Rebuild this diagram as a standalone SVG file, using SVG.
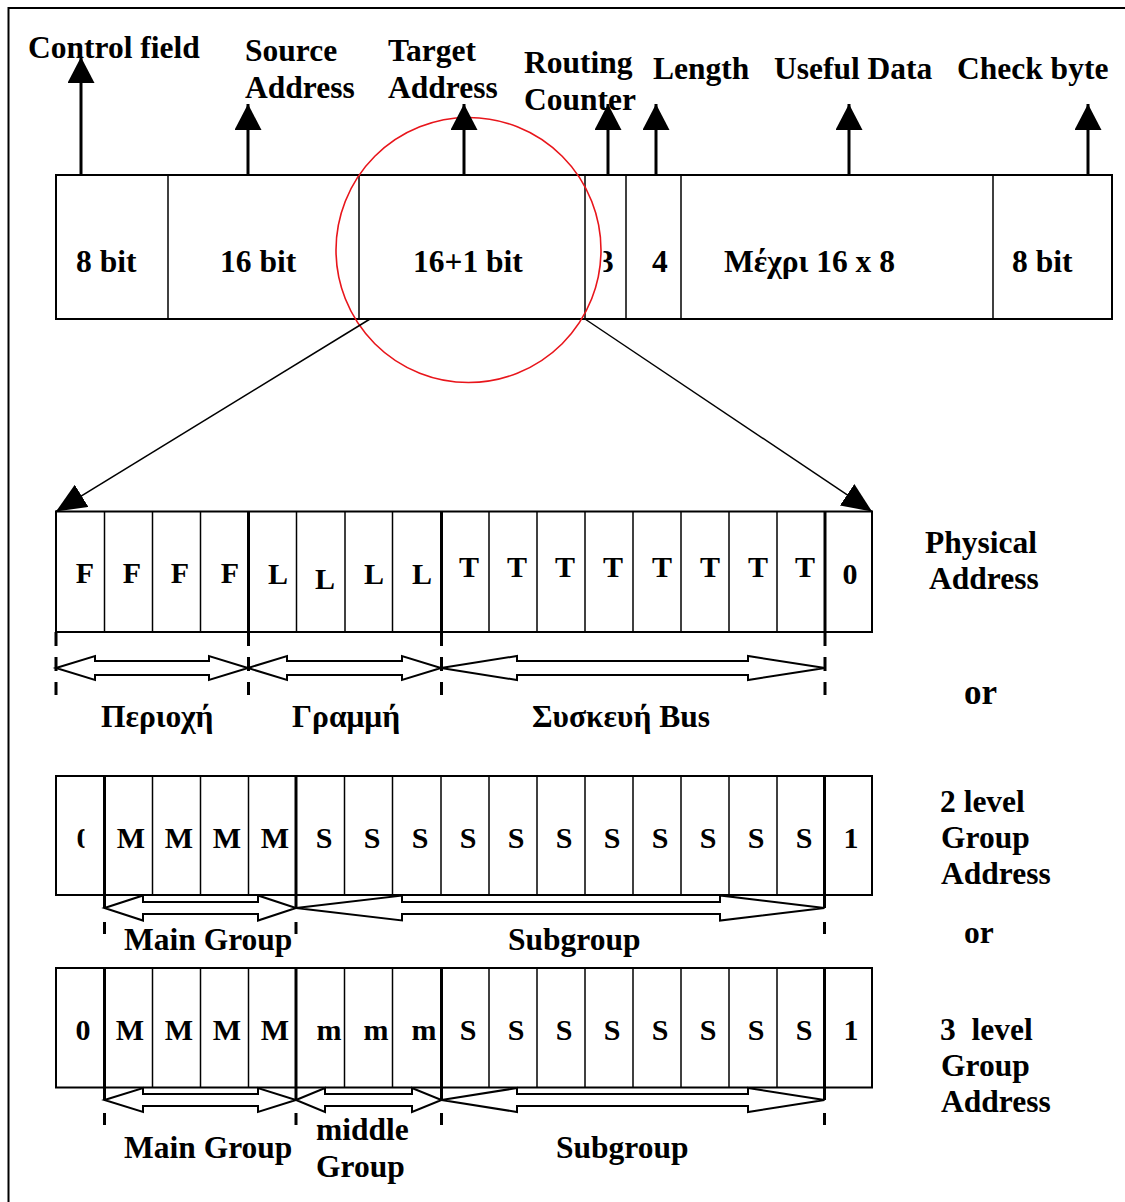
<svg xmlns="http://www.w3.org/2000/svg" width="1125" height="1202" viewBox="0 0 1125 1202">
<style>
text{font-family:"Liberation Serif","Times New Roman",serif;font-weight:bold;fill:#000}
.t31{font-size:31.5px}
.t28{font-size:30px}
.c{text-anchor:middle}
.box{fill:#fff;stroke:#000;stroke-width:2}
.div{stroke:#000;stroke-width:1.5}
.thick{stroke:#000;stroke-width:3}
.up{stroke:#000;stroke-width:3;fill:none}
.diag{stroke:#000;stroke-width:1.5;fill:none}
.dbl{fill:#fff;stroke:#000;stroke-width:2;stroke-linejoin:miter}
.dash{stroke:#000;stroke-width:3}
</style>
<defs>
<marker id="headUp" markerUnits="userSpaceOnUse" viewBox="0 0 26 27" refX="26" refY="13.5" markerWidth="26" markerHeight="27" orient="auto">
<path d="M0,0 L26,13.5 L0,27 Z" fill="#000"/>
</marker>
<marker id="headDiag" markerUnits="userSpaceOnUse" viewBox="0 0 30 26" refX="30" refY="13" markerWidth="30" markerHeight="26" orient="auto">
<path d="M0,0 L30,13 L0,26 Z" fill="#000"/>
</marker>
<clipPath id="clip3"><rect x="603.5" y="200" width="22" height="100"/></clipPath>
<clipPath id="clip0"><rect x="60" y="790" width="24.5" height="100"/></clipPath>
</defs>

<rect x="8.5" y="8" width="1130" height="1210" fill="none" stroke="#000" stroke-width="2"/>

<g id="frame">
<rect class="box" x="56" y="175" width="1056" height="144"/>
<line class="div" x1="168" y1="175" x2="168" y2="319"/>
<line class="div" x1="359" y1="175" x2="359" y2="319"/>
<line class="div" x1="585" y1="175" x2="585" y2="319"/>
<line class="div" x1="626" y1="175" x2="626" y2="319"/>
<line class="div" x1="681" y1="175" x2="681" y2="319"/>
<line class="div" x1="993" y1="175" x2="993" y2="319"/>
<text class="t31" x="76" y="272">8 bit</text>
<text class="t31" x="220" y="272">16 bit</text>
<text class="t31" x="413" y="272">16+1 bit</text>
<text class="t31" x="598" y="272" clip-path="url(#clip3)">3</text>
<text class="t31" x="652" y="272">4</text>
<text class="t31" x="724" y="272">Μέχρι 16 x 8</text>
<text class="t31" x="1012" y="272">8 bit</text>
</g>

<g id="labels-top">
<text class="t31" x="28" y="58">Control field</text>
<text class="t31" x="245" y="61">Source</text>
<text class="t31" x="245" y="98">Address</text>
<text class="t31" x="388" y="61">Target</text>
<text class="t31" x="388" y="98">Address</text>
<text class="t31" x="524" y="73">Routing</text>
<text class="t31" x="524" y="110">Counter</text>
<text class="t31" x="653" y="79">Length</text>
<text class="t31" x="774" y="79">Useful Data</text>
<text class="t31" x="957" y="79">Check byte</text>
</g>

<g id="zoom-circle">
<circle cx="468.5" cy="250" r="132.5" fill="none" stroke="#e8151b" stroke-width="1.6"/>
</g>

<g id="physical-row">
<rect class="box" x="56" y="511.5" width="816" height="120.5"/>
<g class="div">
<line x1="104.5" y1="511.5" x2="104.5" y2="632"/>
<line x1="152.5" y1="511.5" x2="152.5" y2="632"/>
<line x1="200.5" y1="511.5" x2="200.5" y2="632"/>
<line x1="296.5" y1="511.5" x2="296.5" y2="632"/>
<line x1="345" y1="511.5" x2="345" y2="632"/>
<line x1="392.5" y1="511.5" x2="392.5" y2="632"/>
<line x1="489" y1="511.5" x2="489" y2="632"/>
<line x1="537" y1="511.5" x2="537" y2="632"/>
<line x1="585" y1="511.5" x2="585" y2="632"/>
<line x1="633" y1="511.5" x2="633" y2="632"/>
<line x1="681" y1="511.5" x2="681" y2="632"/>
<line x1="729" y1="511.5" x2="729" y2="632"/>
<line x1="777" y1="511.5" x2="777" y2="632"/>
</g>
<g class="thick">
<line x1="248.5" y1="511.5" x2="248.5" y2="632"/>
<line x1="441.5" y1="511.5" x2="441.5" y2="632"/>
<line x1="825" y1="511.5" x2="825" y2="632"/>
</g>
<g class="t28 c">
<text x="85" y="583">F</text>
<text x="132" y="583">F</text>
<text x="180" y="583">F</text>
<text x="230" y="583">F</text>
<text x="278" y="584">L</text>
<text x="325" y="589">L</text>
<text x="374" y="584">L</text>
<text x="422" y="584">L</text>
<text x="469" y="577">T</text>
<text x="517" y="577">T</text>
<text x="565" y="577">T</text>
<text x="613" y="577">T</text>
<text x="662" y="577">T</text>
<text x="710" y="577">T</text>
<text x="758" y="577">T</text>
<text x="805" y="577">T</text>
<text x="850" y="584">0</text>
</g>
<g class="dash" stroke-dasharray="14 11">
<line x1="56" y1="632" x2="56" y2="695"/>
<line x1="248.5" y1="632" x2="248.5" y2="695"/>
<line x1="441.5" y1="632" x2="441.5" y2="695"/>
<line x1="825" y1="632" x2="825" y2="695"/>
</g>
<polygon class="dbl" points="56,668 95,656 95,661 209,661 209,656 248,668 209,680 209,675 95,675 95,680"/>
<polygon class="dbl" points="248,668 287,656 287,661 402,661 402,656 441,668 402,680 402,675 287,675 287,680"/>
<polygon class="dbl" points="441,668 517,656 517,661 748,661 748,656 825,668 748,680 748,675 517,675 517,680"/>
<text class="t31" x="101" y="727">Περιοχή</text>
<text class="t31" x="292" y="727">Γραμμή</text>
<text class="t31" x="532" y="727">Συσκευή Bus</text>
</g>

<g id="group2-row">
<rect class="box" x="56" y="776" width="816" height="119"/>
<g class="div">
<line x1="152.5" y1="776" x2="152.5" y2="895"/>
<line x1="200.5" y1="776" x2="200.5" y2="895"/>
<line x1="248.5" y1="776" x2="248.5" y2="895"/>
<line x1="344.5" y1="776" x2="344.5" y2="895"/>
<line x1="392.5" y1="776" x2="392.5" y2="895"/>
<line x1="441" y1="776" x2="441" y2="895"/>
<line x1="489" y1="776" x2="489" y2="895"/>
<line x1="537" y1="776" x2="537" y2="895"/>
<line x1="585" y1="776" x2="585" y2="895"/>
<line x1="633" y1="776" x2="633" y2="895"/>
<line x1="681" y1="776" x2="681" y2="895"/>
<line x1="729" y1="776" x2="729" y2="895"/>
<line x1="777" y1="776" x2="777" y2="895"/>
</g>
<g class="thick">
<line x1="104.5" y1="776" x2="104.5" y2="908"/>
<line x1="296" y1="776" x2="296" y2="908"/>
<line x1="824.5" y1="776" x2="824.5" y2="908"/>
<line x1="104.5" y1="922" x2="104.5" y2="934"/>
<line x1="296" y1="922" x2="296" y2="934"/>
<line x1="824.5" y1="922" x2="824.5" y2="934"/>
</g>
<g class="t28 c">
<text x="84" y="848" clip-path="url(#clip0)">0</text>
<text x="131" y="848">M</text>
<text x="179" y="848">M</text>
<text x="227" y="848">M</text>
<text x="275" y="848">M</text>
<text x="324" y="848">S</text>
<text x="372" y="848">S</text>
<text x="420" y="848">S</text>
<text x="468" y="848">S</text>
<text x="516" y="848">S</text>
<text x="564" y="848">S</text>
<text x="612" y="848">S</text>
<text x="660" y="848">S</text>
<text x="708" y="848">S</text>
<text x="756" y="848">S</text>
<text x="804" y="848">S</text>
<text x="851" y="848">1</text>
</g>
<polygon class="dbl" points="104.5,908 143,895.5 143,902 258,902 258,895.5 296,908 258,920.5 258,914 143,914 143,920.5"/>
<polygon class="dbl" points="296,908 402,895.5 402,902 720,902 720,895.5 824.5,908 720,920.5 720,914 402,914 402,920.5"/>
<text class="t31" x="124" y="950">Main Group</text>
<text class="t31" x="508" y="950">Subgroup</text>
</g>

<g id="group3-row">
<rect class="box" x="56" y="968" width="816" height="119.5"/>
<g class="div">
<line x1="152.5" y1="968" x2="152.5" y2="1087.5"/>
<line x1="200.5" y1="968" x2="200.5" y2="1087.5"/>
<line x1="248.5" y1="968" x2="248.5" y2="1087.5"/>
<line x1="344.5" y1="968" x2="344.5" y2="1087.5"/>
<line x1="392.5" y1="968" x2="392.5" y2="1087.5"/>
<line x1="489" y1="968" x2="489" y2="1087.5"/>
<line x1="537" y1="968" x2="537" y2="1087.5"/>
<line x1="585" y1="968" x2="585" y2="1087.5"/>
<line x1="633" y1="968" x2="633" y2="1087.5"/>
<line x1="681" y1="968" x2="681" y2="1087.5"/>
<line x1="729" y1="968" x2="729" y2="1087.5"/>
<line x1="777" y1="968" x2="777" y2="1087.5"/>
</g>
<g class="thick">
<line x1="104.5" y1="968" x2="104.5" y2="1100"/>
<line x1="296" y1="968" x2="296" y2="1100"/>
<line x1="441.5" y1="968" x2="441.5" y2="1100"/>
<line x1="824.5" y1="968" x2="824.5" y2="1100"/>
<line x1="104.5" y1="1113" x2="104.5" y2="1125"/>
<line x1="296" y1="1113" x2="296" y2="1125"/>
<line x1="441.5" y1="1113" x2="441.5" y2="1125"/>
<line x1="824.5" y1="1113" x2="824.5" y2="1125"/>
</g>
<g class="t28 c">
<text x="83" y="1040">0</text>
<text x="130" y="1040">M</text>
<text x="179" y="1040">M</text>
<text x="227" y="1040">M</text>
<text x="275" y="1040">M</text>
<text x="329" y="1040">m</text>
<text x="376" y="1040">m</text>
<text x="424" y="1040">m</text>
<text x="468" y="1040">S</text>
<text x="516" y="1040">S</text>
<text x="564" y="1040">S</text>
<text x="612" y="1040">S</text>
<text x="660" y="1040">S</text>
<text x="708" y="1040">S</text>
<text x="756" y="1040">S</text>
<text x="804" y="1040">S</text>
<text x="851" y="1040">1</text>
</g>
<polygon class="dbl" points="104.5,1100 143,1088 143,1094 258,1094 258,1088 296,1100 258,1112 258,1106 143,1106 143,1112"/>
<polygon class="dbl" points="296,1100 325,1088 325,1094 412,1094 412,1088 441.5,1100 412,1112 412,1106 325,1106 325,1112"/>
<polygon class="dbl" points="441.5,1100 517,1088 517,1094 748,1094 748,1088 824.5,1100 748,1112 748,1106 517,1106 517,1112"/>
<text class="t31" x="124" y="1158">Main Group</text>
<text class="t31" x="316" y="1140">middle</text>
<text class="t31" x="316" y="1177">Group</text>
<text class="t31" x="556" y="1158">Subgroup</text>
</g>

<g id="labels-right">
<text class="t31" x="925" y="553">Physical</text>
<text class="t31" x="929" y="589">Address</text>
<text x="964" y="704" style="font-size:35px">or</text>
<text class="t31" x="940" y="812">2 level</text>
<text class="t31" x="941" y="848">Group</text>
<text class="t31" x="941" y="884">Address</text>
<text class="t31" x="964" y="943">or</text>
<text class="t31" x="940" y="1040" xml:space="preserve">3  level</text>
<text class="t31" x="941" y="1076">Group</text>
<text class="t31" x="941" y="1112">Address</text>
</g>

<g id="connectors">
<line class="up" x1="81" y1="175" x2="81" y2="57" marker-end="url(#headUp)"/>
<line class="up" x1="248" y1="175" x2="248" y2="104" marker-end="url(#headUp)"/>
<line class="up" x1="464" y1="175" x2="464" y2="104" marker-end="url(#headUp)"/>
<line class="up" x1="608" y1="175" x2="608" y2="104" marker-end="url(#headUp)"/>
<line class="up" x1="656" y1="175" x2="656" y2="104" marker-end="url(#headUp)"/>
<line class="up" x1="849" y1="175" x2="849" y2="104" marker-end="url(#headUp)"/>
<line class="up" x1="1088" y1="175" x2="1088" y2="104" marker-end="url(#headUp)"/>
<line class="diag" x1="370" y1="319" x2="56" y2="511.5" marker-end="url(#headDiag)"/>
<line class="diag" x1="585" y1="319" x2="872" y2="511.5" marker-end="url(#headDiag)"/>
</g>
</svg>
